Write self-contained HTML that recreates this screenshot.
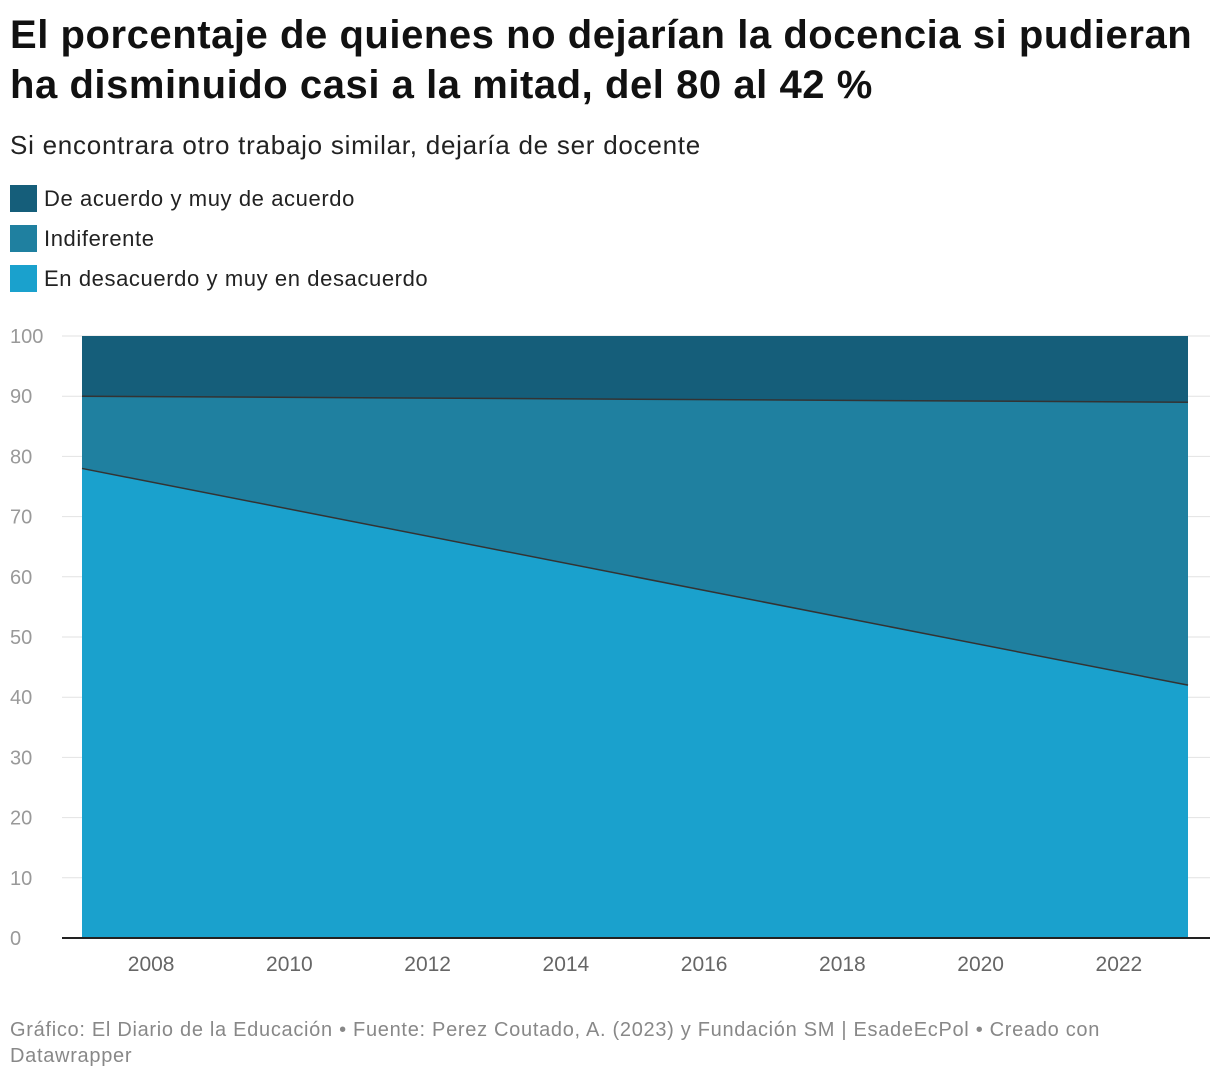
<!DOCTYPE html>
<html><head><meta charset="utf-8">
<style>
body{margin:0;background:#fff;font-family:"Liberation Sans",sans-serif;width:1220px;height:1082px;overflow:hidden;position:relative}
h1{position:absolute;left:10px;top:10px;margin:0;font-size:40px;line-height:50px;font-weight:bold;color:#111;width:1210px;letter-spacing:0.55px;white-space:nowrap}
.sub{position:absolute;left:10px;top:130px;font-size:26px;color:#222;letter-spacing:0.75px}
.leg{position:absolute;left:10px;font-size:22px;color:#222;display:flex;align-items:center;letter-spacing:0.6px}
.leg span{display:inline-block;width:27px;height:27px;margin-right:7px}
.foot{position:absolute;left:10px;top:1017px;font-size:20px;color:#888;line-height:26px;width:1200px;letter-spacing:0.7px}
svg{position:absolute;left:0;top:0}
</style></head><body>
<h1>El porcentaje de quienes no dejarían la docencia si pudieran<br>ha disminuido casi a la mitad, del 80 al 42 %</h1>
<div class="sub">Si encontrara otro trabajo similar, dejaría de ser docente</div>
<div class="leg" style="top:185px"><span style="background:#155e7a"></span>De acuerdo y muy de acuerdo</div>
<div class="leg" style="top:225px"><span style="background:#1f80a0"></span>Indiferente</div>
<div class="leg" style="top:265px"><span style="background:#1aa1cd"></span>En desacuerdo y muy en desacuerdo</div>
<svg id="chart" width="1220" height="1082"></svg>
<div class="foot">Gráfico: El Diario de la Educación • Fuente: Perez Coutado, A. (2023) y Fundación SM | EsadeEcPol • Creado con<br>Datawrapper</div>
<script>
const years = [2007, 2023];
const desacuerdo = [78, 42];
const indiferente = [12, 47];
const acuerdo = [10, 11];
const yTicks = [0,10,20,30,40,50,60,70,80,90,100];
const xTicks = [2008,2010,2012,2014,2016,2018,2020,2022];

const svg = document.getElementById('chart');
const NS = 'http://www.w3.org/2000/svg';
const x = v => 82 + (v - 2007) * (1188 - 82) / 16;
const y = v => 938 - v * 6.02;
function mk(tag, attrs){const e=document.createElementNS(NS,tag);for(const k in attrs)e.setAttribute(k,attrs[k]);svg.appendChild(e);return e;}

yTicks.forEach(t=>{
  const g = mk('line',{x1:62,x2:1210,y1:y(t),y2:y(t),stroke:'#e2e2e2','stroke-width':1});
  
  
  const l = mk('text',{x:10,y:y(t)+7,'font-size':20,fill:'#999','font-family':'Liberation Sans, sans-serif'});
  l.textContent = t;
  
  
});

const cum1 = desacuerdo;
const cum2 = desacuerdo.map((d,i)=>d+indiferente[i]);
const cum3 = cum2.map((d,i)=>d+acuerdo[i]);
function area(lo, hi, color, name){
  let pts = years.map((yr,i)=>x(yr)+','+y(hi[i]));
  pts = pts.concat(years.slice().reverse().map((yr,j)=>{const i=years.length-1-j;return x(yr)+','+y(lo[i]);}));
  const p = mk('polygon',{points:pts.join(' '),fill:color});
  
  
}
area(years.map(()=>0), cum1, '#1aa1cd', 'area-desacuerdo');
area(cum1, cum2, '#1f80a0', 'area-indiferente');
area(cum2, cum3, '#155e7a', 'area-acuerdo');
[cum1, cum2].forEach(c=>{
  const l = mk('polyline',{points:years.map((yr,i)=>x(yr)+','+y(c[i])).join(' '),fill:'none',stroke:'#333','stroke-width':1.5});
  
  
});
const ax = mk('line',{x1:62,x2:1210,y1:y(0),y2:y(0),stroke:'#222','stroke-width':2});


xTicks.forEach(t=>{
  const l = mk('text',{x:x(t),y:971,'font-size':21,fill:'#666','text-anchor':'middle','font-family':'Liberation Sans, sans-serif'});
  l.textContent = t;
  
  
});
</script>
</body></html>
